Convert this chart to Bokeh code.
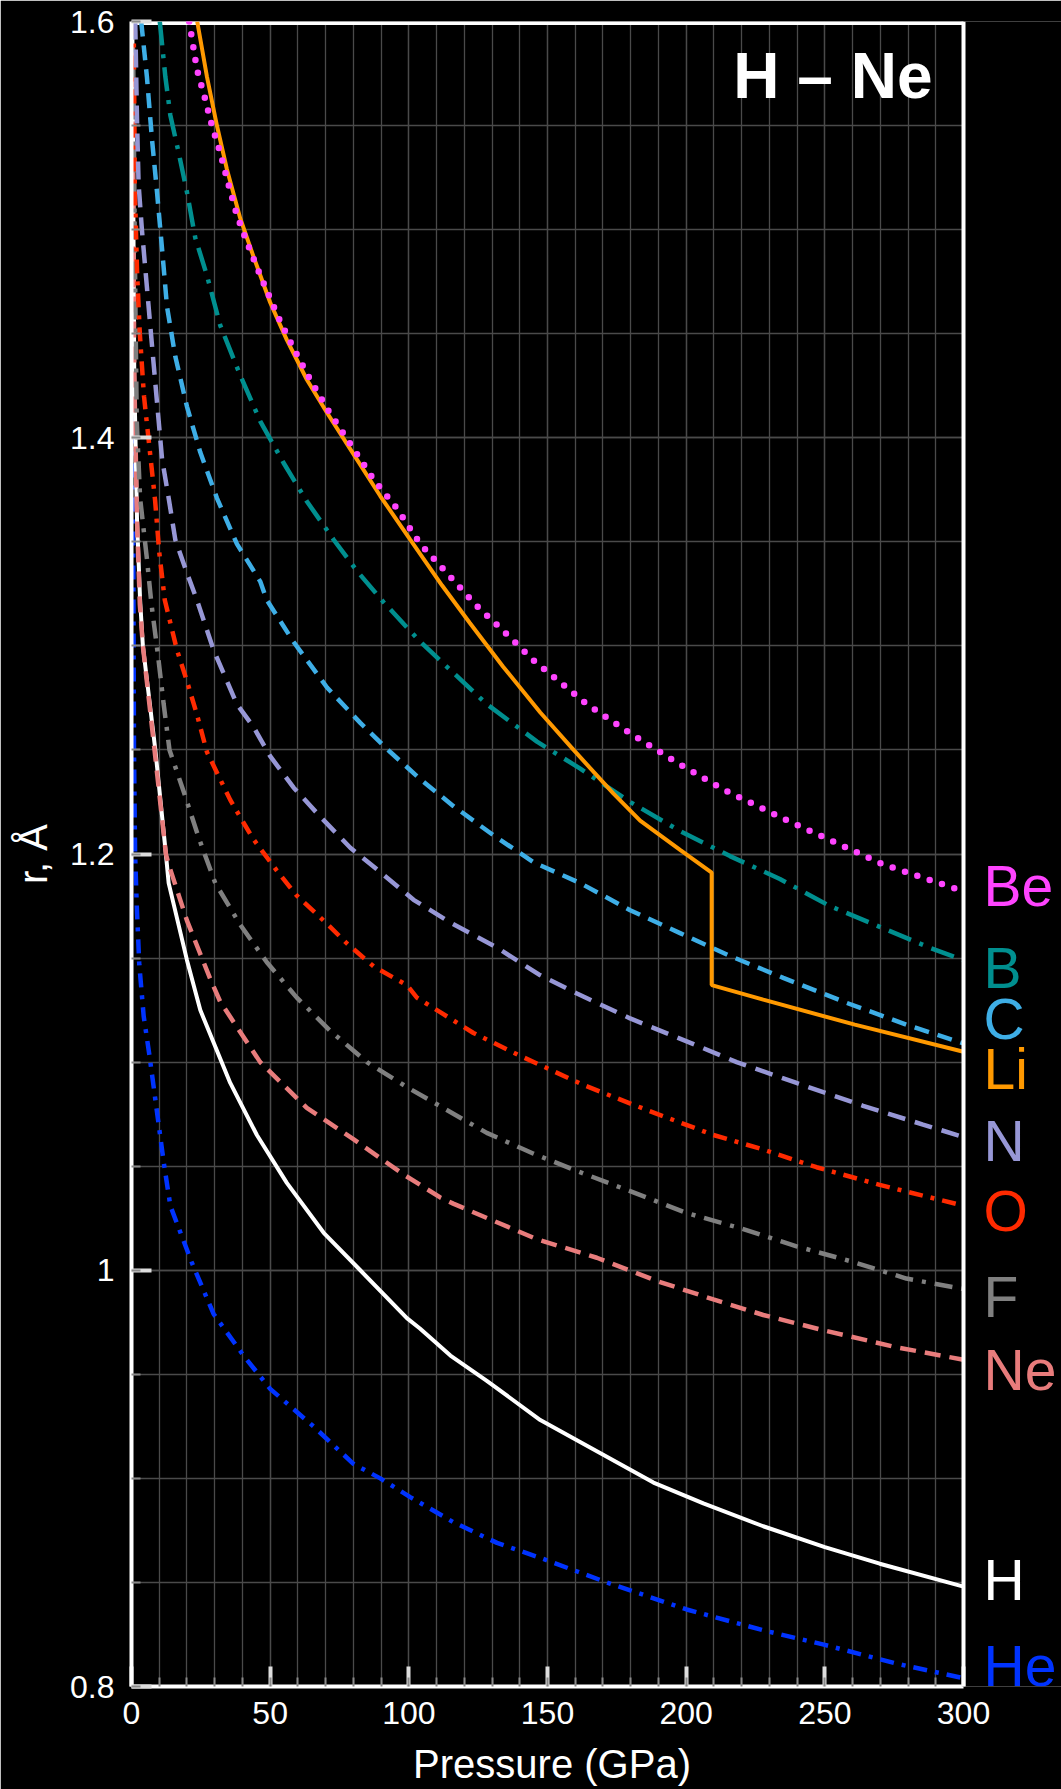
from bokeh.plotting import figure
from bokeh.models import (Label, Span, Range1d, FixedTicker, CustomJSTickFormatter, ColumnDataSource)
from bokeh.core.properties import value
from bokeh.embed import file_html
from bokeh.resources import INLINE

# ---------------- data (pressure in GPa, radius in Angstrom) ----------------
H_p = [0.3, 1.0, 2.0, 3.1, 4.1, 8.6, 12.4, 13.4, 20, 24.8, 35.6, 45.2, 56, 69.3, 82.5, 99.3, 104, 115, 128, 147.4,
       167.8, 188.2, 206.2, 227.8, 250, 269.8, 300]
H_r = [1.6, 1.43, 1.36, 1.322, 1.30, 1.25, 1.20, 1.186, 1.149, 1.125, 1.09, 1.065, 1.042, 1.018, 1.0, 0.977, 0.972,
       0.959, 0.947, 0.928, 0.913, 0.898, 0.888, 0.877, 0.867, 0.859, 0.848]

He_p = [0.2, 0.5, 0.9, 1.3, 1.9, 2.8, 4.4, 6.5, 9.8, 11.6, 14, 21.8, 29.6, 40.4, 50, 65.6, 80, 89.7, 100.5, 116, 131.8,
        147, 171.4, 200.2, 227.8, 250, 275.8, 300]
He_r = [1.6, 1.4, 1.25, 1.2, 1.175, 1.147, 1.122, 1.103, 1.07, 1.052, 1.031, 1.0035, 0.979, 0.959, 0.943, 0.925, 0.907,
        0.90, 0.891, 0.879, 0.869, 0.862, 0.850, 0.837, 0.827, 0.820, 0.811, 0.804]

Ne_p = [0.3, 1.0, 2.0, 3.0, 4.1, 8.3, 12.4, 13.4, 20, 28.4, 32, 46.4, 63.2, 80, 98.1, 111.3, 116, 146, 167.8, 190, 209.8,
        227.8, 250, 275.8, 300]
Ne_r = [1.6, 1.43, 1.36, 1.32, 1.30, 1.25, 1.20, 1.195, 1.168, 1.14, 1.129, 1.10, 1.078, 1.063, 1.046, 1.035, 1.032, 1.015,
        1.006, 0.9946, 0.986, 0.9785, 0.971, 0.963, 0.957]

F_p = [0.5, 1.35, 1.9, 3.1, 5.55, 7.2, 9.5, 11.6, 13.7, 18.8, 24.2, 30.2, 39.2, 48.8, 59.6, 71.7, 84.9, 99.3, 113.7, 128.1,
       145, 160, 179.8, 200.2, 220, 239.8, 260.2, 279.4, 300]
F_r = [1.6, 1.47, 1.408, 1.371, 1.342, 1.32, 1.296, 1.272, 1.25, 1.23, 1.208, 1.186, 1.166, 1.148, 1.131, 1.115, 1.10,
       1.088, 1.077, 1.066, 1.056, 1.048, 1.038, 1.0275, 1.02, 1.0115, 1.004, 0.996, 0.991]

O_p = [0.8, 1.2, 2.0, 3.0, 4.5, 6.5, 8.5, 10, 12, 16.4, 20, 23.6, 27.2, 35.6, 40.4, 44, 52.4, 59.6, 69.3, 77.7, 87.3, 99.3,
       102.9, 111.3, 123.3, 140.2, 163, 185.8, 209.8, 227.8, 247, 269.8, 300]
O_r = [1.6, 1.52, 1.48, 1.45, 1.42, 1.395, 1.37, 1.345, 1.322, 1.298, 1.283, 1.267, 1.249, 1.226, 1.215, 1.207, 1.192,
       1.18, 1.168, 1.157, 1.146, 1.137, 1.131, 1.124, 1.114, 1.103, 1.089, 1.077, 1.065, 1.058, 1.0495, 1.041, 1.031]

N_p = [1.35, 1.95, 2.55, 3.75, 5.55, 7.35, 9.2, 11, 13.4, 15.8, 20, 23.6, 29.6, 38, 44, 50, 58.4, 68, 78.9, 90.9, 101.7,
       115, 131.8, 147, 160.6, 179.8, 200.2, 218.2, 239.8, 263.8, 285.4, 300]
N_r = [1.6, 1.555, 1.522, 1.50, 1.4725, 1.445, 1.417, 1.39, 1.371, 1.351, 1.335, 1.322, 1.298, 1.272, 1.261, 1.247, 1.232,
       1.218, 1.203, 1.19, 1.178, 1.167, 1.155, 1.142, 1.133, 1.121, 1.11, 1.10, 1.09, 1.079, 1.070, 1.064]

C_p = [3.5, 5.55, 7.35, 9.2, 11, 12.8, 15.8, 20, 24.8, 30.8, 38, 46.4, 48.8, 58.4, 70.5, 82.5, 93.3, 104.1, 116.1, 130.5,
       145, 161.8, 179.8, 197.8, 215.8, 235, 257.8, 279.4, 300]
C_r = [1.6, 1.5735, 1.544, 1.518, 1.491, 1.463, 1.439, 1.415, 1.393, 1.371, 1.349, 1.331, 1.322, 1.302, 1.28, 1.263, 1.249,
       1.236, 1.223, 1.209, 1.196, 1.186, 1.173, 1.162, 1.151, 1.1405, 1.1285, 1.118, 1.109]

B_p = [10.2, 12.2, 14, 17, 20, 23, 27.2, 32, 39.2, 46.4, 54.8, 63.2, 72.9, 81.3, 90.9, 104.1, 116.1, 128.1, 146.2, 161.8,
       179.8, 197.8, 215.8, 233.8, 251.8, 269.8, 287.8, 300]
B_r = [1.6, 1.5735, 1.555, 1.537, 1.518, 1.496, 1.478, 1.454, 1.43, 1.408, 1.388, 1.3695, 1.351, 1.336, 1.321, 1.302, 1.287,
       1.272, 1.254, 1.241, 1.225, 1.211, 1.199, 1.188, 1.175, 1.165, 1.155, 1.149]

Be_p = [20.8, 23.6, 26.6, 29, 32, 34.5, 38, 41.6, 45.2, 48.8, 53.6, 58.4, 64.4, 71, 78.9, 87.3, 95.7, 104.1, 113.7, 123.9,
        134.2, 145, 164.2, 179.8, 196.6, 213.4, 235, 253, 271, 289, 300]
Be_r = [1.6, 1.577, 1.5625, 1.55, 1.537, 1.524, 1.507, 1.494, 1.482, 1.4706, 1.456, 1.443, 1.428, 1.413, 1.397, 1.380,
        1.366, 1.349, 1.335, 1.32, 1.307, 1.293, 1.272, 1.258, 1.244, 1.231, 1.217, 1.206, 1.195, 1.187, 1.182]

Li_p = [23.7, 27.2, 30.8, 34.4, 39.2, 44, 50, 56, 63.2, 70.5, 80.1, 89.7, 100.5, 112, 122, 134, 147.4, 159.4, 173.8,
        183.4, 197.8, 209.2, 209.2, 227.8, 260.8, 300]
Li_r = [1.6, 1.5735, 1.55, 1.529, 1.5055, 1.487, 1.465, 1.447, 1.428, 1.412, 1.392, 1.372, 1.351, 1.329, 1.311, 1.290,
        1.268, 1.25, 1.229, 1.216, 1.202, 1.191, 1.137, 1.130, 1.118, 1.105]

elements = ["Be", "B", "C", "Li", "N", "O", "F", "Ne", "H", "He"]
label_r = [1.1844, 1.1452, 1.1209, 1.0969, 1.0623, 1.0286, 0.9873, 0.9522, 0.8513, 0.8100]
colors = {"Be": "#ff44ff", "B": "#008f8f", "C": "#3eaee6", "Li": "#ff9900", "N": "#9797d6",
          "O": "#ff2a00", "F": "#808080", "Ne": "#e87c7c", "H": "#ffffff", "He": "#0033ff"}
x_ticks = [0, 50, 100, 150, 200, 250, 300]
x_minor = list(range(0, 301, 10))
y_ticks = [0.8, 1.0, 1.2, 1.4, 1.6]
y_minor = [0.8 + 0.05 * i for i in range(17)]

FONT = "Liberation Sans"
P_MAX = 300
# the frame runs to the right edge of the page so that the element labels
# (drawn inside it) are visible; the pressure axis itself ends at 300 GPa
LEFT, PLOT_W, WIDTH = 131, 832, 1061
X_END = P_MAX * (WIDTH - LEFT) / PLOT_W

p = figure(width=WIDTH, height=1789, x_range=Range1d(0, X_END), y_range=Range1d(0.8, 1.6),
           output_backend="svg", toolbar_location=None,
           background_fill_color="black", border_fill_color="black",
           min_border_left=LEFT, min_border_right=0, min_border_top=21, min_border_bottom=103)
p.outline_line_color = None

# grids limited to the 0-300 GPa box
for g in (p.xgrid, p.ygrid):
    g.grid_line_color = "#4a4a4a"
    g.grid_line_width = 1.3
    g.minor_grid_line_color = "#4a4a4a"
    g.minor_grid_line_width = 1.3
try:
    p.ygrid[0].cross_bounds = (0, P_MAX)
except Exception:
    p.ygrid.visible = False
    p.multi_line([[0, P_MAX]] * len(y_minor), [[v, v] for v in y_minor], line_color="#4a4a4a", line_width=1.3)

p.xaxis.ticker = FixedTicker(ticks=x_ticks, minor_ticks=x_minor)
p.xaxis.bounds = (0, P_MAX)
p.yaxis.ticker = FixedTicker(ticks=y_ticks, minor_ticks=y_minor)
p.yaxis.formatter = CustomJSTickFormatter(code="return Number(tick.toFixed(2)).toString();")

for ax in (p.xaxis[0], p.yaxis[0]):
    ax.axis_line_color = "white"
    ax.axis_line_width = 4
    ax.major_tick_in = 20
    ax.major_tick_out = 0
    ax.major_tick_line_color = "#dddddd"
    ax.major_tick_line_width = 4
    ax.minor_tick_in = 9
    ax.minor_tick_out = 0
    ax.minor_tick_line_color = "#8a8a8a"
    ax.minor_tick_line_width = 2
    ax.major_label_text_color = "white"
    ax.major_label_text_font = FONT
    ax.major_label_text_font_size = "32px"
    ax.axis_label_text_color = "white"
    ax.axis_label_text_font = FONT
    ax.axis_label_text_font_size = "40px"
    ax.axis_label_text_font_style = "normal"

# the axis title is centred on the whole frame; trailing no-break spaces shift
# the visible words back over the centre of the 0-300 GPa box
p.xaxis.axis_label = "Pressure (GPa)" + "\u00a0" * 8
p.xaxis.major_label_standoff = 15
p.xaxis.axis_label_standoff = 15
p.yaxis.axis_label = "r, Å"
p.yaxis.major_label_standoff = 17
p.yaxis.axis_label_standoff = 12

# box border: right edge at 300 GPa and top edge
p.add_layout(Span(location=P_MAX, dimension="height", line_color="white", line_width=4))
p.line([0, P_MAX], [1.6, 1.6], line_color="white", line_width=7)

# curves
p.line(He_p, He_r, line_color=colors["He"], line_width=4.5, line_dash="14 8 4 8")
p.line(H_p, H_r, line_color=colors["H"], line_width=4)
p.line(Ne_p, Ne_r, line_color=colors["Ne"], line_width=4.5, line_dash="16 9")
p.line(F_p, F_r, line_color=colors["F"], line_width=4.5, line_dash="18 9 4 9")
p.line(O_p, O_r, line_color=colors["O"], line_width=4.5, line_dash="14 8 4 8")
p.line(N_p, N_r, line_color=colors["N"], line_width=4.5, line_dash="18 10")
p.line(C_p, C_r, line_color=colors["C"], line_width=4.5, line_dash="15 9")
p.line(B_p, B_r, line_color=colors["B"], line_width=4.5, line_dash="24 9 4 9")
p.line(Li_p, Li_r, line_color=colors["Li"], line_width=4)
p.line(Be_p, Be_r, line_color=colors["Be"], line_width=6.5, line_dash="0 13", line_cap="round")

# panel title
p.add_layout(Label(x=P_MAX, y=1.5736, x_offset=-31, text="H – Ne", text_color="white",
                   text_font=FONT, text_font_size="64px", text_font_style="bold",
                   text_align="right", text_baseline="middle"))

# element labels right of the 300 GPa edge
lab_src = ColumnDataSource(dict(x=[P_MAX] * len(elements), y=label_r, t=elements,
                                c=[colors[e] for e in elements]))
p.text(x="x", y="y", text="t", text_color="c", source=lab_src, x_offset=20,
       text_font=value(FONT), text_font_size=value("57px"), text_baseline="middle")

open("out.html", "w").write(file_html(p, INLINE))
